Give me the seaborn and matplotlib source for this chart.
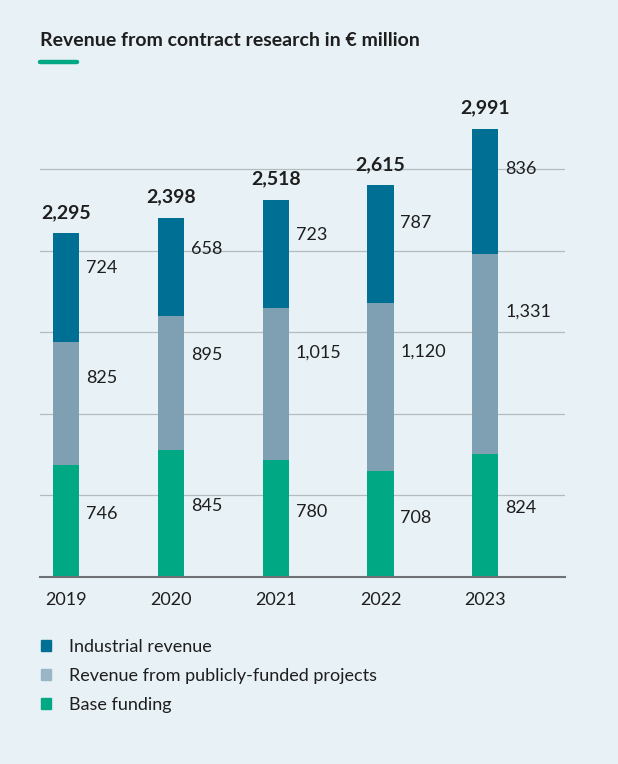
"""Stacked bar chart: revenue from contract research, 2019-2023."""

import matplotlib

matplotlib.use("Agg")
import matplotlib.pyplot as plt
from matplotlib.lines import Line2D
from matplotlib.patches import Patch
import numpy as np
import pandas as pd
import seaborn as sns

years = ["2019", "2020", "2021", "2022", "2023"]
base_funding = [746, 845, 780, 708, 824]
public_projects = [825, 895, 1015, 1120, 1331]
industrial = [724, 658, 723, 787, 836]
totals = ["2,295", "2,398", "2,518", "2,615", "2,991"]
series_names = ["Industrial revenue", "Revenue from publicly-funded projects", "Base funding"]

BG = "#e8f1f5"
C_IND = "#006f94"
C_PUB = "#7fa0b3"
C_BASE = "#00a884"
TEXT = "#1e1e1e"
FS = 13

sns.set_theme(style="white")
plt.rcParams["font.family"] = ["Lato", "DejaVu Sans"]

df = pd.DataFrame({
    "year": years,
    "base": base_funding,
    "public": public_projects,
    "industrial": industrial,
})
df["b_pub"] = df["base"]
df["b_ind"] = df["base"] + df["public"]
df["total"] = df["b_ind"] + df["industrial"]

fig = plt.figure(figsize=(6.18, 7.64), dpi=100, facecolor=BG)
ax = fig.add_axes([40 / 618, 1 - 577 / 764, 525 / 618, 477 / 764])
ax.set_facecolor(BG)

w = 0.25
bar_kw = dict(width=w, saturation=1, linewidth=0, ax=ax)
sns.barplot(data=df, x="year", y="base", color=C_BASE, **bar_kw)
sns.barplot(data=df, x="year", y="public", bottom=df["b_pub"], color=C_PUB, **bar_kw)
sns.barplot(data=df, x="year", y="industrial", bottom=df["b_ind"], color=C_IND, **bar_kw)

ax.set_xlim(-0.25, 4.76)
ax.set_ylim(0, 3185)
ax.set_yticks(np.arange(1, 6) * 545)
ax.yaxis.grid(True, color="#b4bcc0", linewidth=0.9)
ax.set_axisbelow(True)
ax.set_yticklabels([])
ax.set_xlabel("")
ax.set_ylabel("")
ax.tick_params(axis="both", length=0)
ax.tick_params(axis="x", pad=11, labelsize=FS, labelcolor=TEXT)
for side in ["top", "left", "right"]:
    ax.spines[side].set_visible(False)
ax.spines["bottom"].set_color("#6e7275")
ax.spines["bottom"].set_linewidth(1.5)

# segment value labels, right of each bar
for i, row in df.iterrows():
    xl = i + 0.19
    ax.text(xl, row["b_ind"] + row["industrial"] * 0.68, f"{row['industrial']:,}",
            va="center", ha="left", fontsize=FS, color=TEXT)
    ax.text(xl, row["b_pub"] + row["public"] * 0.71, f"{row['public']:,}",
            va="center", ha="left", fontsize=FS, color=TEXT)
    ax.text(xl, row["base"] * 0.56, f"{row['base']:,}",
            va="center", ha="left", fontsize=FS, color=TEXT)
    ax.annotate(totals[i], (i, row["total"]), xytext=(0, 15), textcoords="offset points",
                ha="center", va="center", fontsize=14, fontweight="bold", color=TEXT)

# title and accent line
fig.text(40 / 618, 1 - 40 / 764, "Revenue from contract research in € million",
         ha="left", va="center", fontsize=14, fontweight="bold", color=TEXT)
fig.add_artist(Line2D([40 / 618, 77 / 618], [1 - 62 / 764] * 2, color=C_BASE,
                      linewidth=3.2, transform=fig.transFigure))

handles = [Patch(color=c) for c in (C_IND, "#9ab6c6", C_BASE)]
fig.legend(handles, series_names, loc="upper left",
           bbox_to_anchor=(40.5 / 618, 1 - 639 / 764), frameon=False,
           fontsize=FS, handlelength=0.6, handleheight=0.6, handletextpad=1.0,
           labelspacing=0.72, borderpad=0, borderaxespad=0, labelcolor=TEXT)

fig.savefig("out.png", dpi=100, facecolor=BG)
